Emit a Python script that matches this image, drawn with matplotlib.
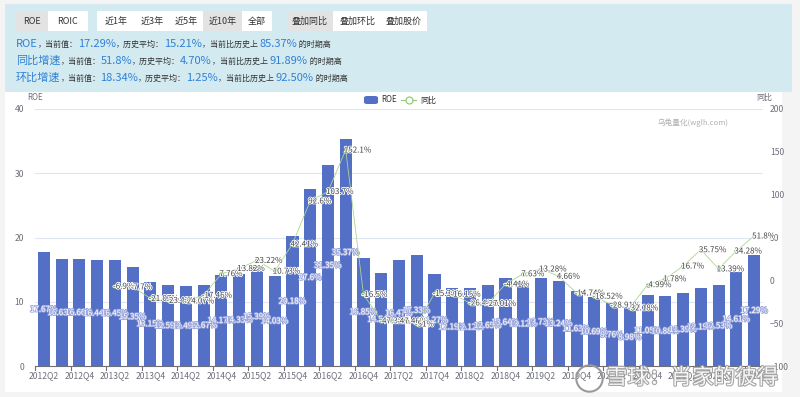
import matplotlib
matplotlib.use("Agg")
import matplotlib.pyplot as plt
from matplotlib.patches import FancyBboxPatch, Rectangle
import matplotlib.patheffects as pe

plt.rcParams['font.family'] = ['Noto Sans CJK SC', 'DejaVu Sans']

# ---------------- data ----------------
quarters = ["2012Q2", "2012Q3", "2012Q4", "2013Q1", "2013Q2", "2013Q3", "2013Q4",
            "2014Q1", "2014Q2", "2014Q3", "2014Q4", "2015Q1", "2015Q2", "2015Q3",
            "2015Q4", "2016Q1", "2016Q2", "2016Q3", "2016Q4", "2017Q1", "2017Q2",
            "2017Q3", "2017Q4", "2018Q1", "2018Q2", "2018Q3", "2018Q4", "2019Q1",
            "2019Q2", "2019Q3", "2019Q4", "2020Q1", "2020Q2", "2020Q3", "2020Q4",
            "2021Q1", "2021Q2", "2021Q3", "2021Q4", "2022Q1", "2022Q2"]
roe = [17.67, 16.63, 16.66, 16.44, 16.45, 15.35, 13.15, 12.59, 12.49, 12.67,
       14.17, 14.33, 15.39, 14.03, 20.18, 27.6, 31.35, 35.37, 16.85, 14.54,
       16.47, 17.33, 14.27, 12.19, 12.12, 12.65, 13.64, 13.12, 13.73, 13.24,
       11.63, 10.69, 9.76, 8.98, 11.05, 10.88, 11.39, 12.19, 12.53, 14.61, 17.29]
yoy = [None, None, None, None, -6.9, -7.7, -21.07, -23.42, -24.07, -17.46,
       7.76, 13.82, 23.22, 10.73, 42.41, 92.6, 103.7, 152.1, -16.5, -47.32,
       -47.46, -51.0, -15.31, -16.15, -26.41, -27.01, -4.41, 7.63, 13.28, 4.66,
       -14.74, -18.52, -28.91, -32.18, -4.99, 1.78, 16.7, 35.75, 13.39, 34.28, 51.8]
left_ticks = [0, 10, 20, 30, 40]
right_ticks = [-100, -50, 0, 50, 100, 150, 200]

W, H = 800, 397
BAR = '#5470c6'
LINE = '#a9d68f'
BLUE_TXT = '#2f80d6'
DARK = '#333333'
AXIS_TXT = '#6e7079'

fig = plt.figure(figsize=(W / 100, H / 100), dpi=100)
fig.patch.set_facecolor('#f4f4f4')


def px(x0, y0, w, h):
    """figure fraction rect from top-left pixel coords"""
    return (x0 / W, 1 - (y0 + h) / H, w / W, h / H)


# background panels
fig.patches.append(Rectangle((5 / W, 1 - 392 / H), 777 / W, 300 / H,
                             transform=fig.transFigure, facecolor='white',
                             edgecolor='none', zorder=-10))
fig.patches.append(Rectangle((5 / W, 1 - 92 / H), 787 / W, 88 / H,
                             transform=fig.transFigure, facecolor='#d3eaf0',
                             edgecolor='none', zorder=-10))

# buttons
buttons = [("ROE", 16, 48, True), ("ROIC", 48, 88, False),
           ("近1年", 97, 135, False), ("近3年", 135, 170, False),
           ("近5年", 170, 203, False), ("近10年", 203, 242, True),
           ("全部", 242, 272, False),
           ("叠加同比", 287, 333, True), ("叠加环比", 333, 381, False),
           ("叠加股价", 381, 427, False)]
for label, x0, x1, sel in buttons:
    fig.patches.append(Rectangle((x0 / W, 1 - 31 / H), (x1 - x0) / W, 20 / H,
                                 transform=fig.transFigure,
                                 facecolor='#e3e3e3' if sel else 'white',
                                 edgecolor='none', zorder=-5))
    fig.text((x0 + x1) / 2 / W, 1 - 21.5 / H, label, ha='center', va='center',
             fontsize=6.5, color=DARK, zorder=2)

renderer = fig.canvas.get_renderer()


def pieces(x0, ybase, items):
    x = x0
    for txt, size, color in items:
        t = fig.text(x / W, 1 - ybase / H, txt, fontsize=size, color=color,
                     ha='left', va='baseline', zorder=2)
        x += t.get_window_extent(renderer).width


big, small = 8.0, 5.8
pieces(16, 47, [("ROE", big, BLUE_TXT), ("，当前值：", small, DARK), ("17.29%", big, BLUE_TXT),
                ("，历史平均：", small, DARK), ("15.21%", big, BLUE_TXT),
                ("，当前比历史上 ", small, DARK), ("85.37%", big, BLUE_TXT), (" 的时期高", small, DARK)])
pieces(16, 64, [("同比增速", big, BLUE_TXT), ("，当前值：", small, DARK), ("51.8%", big, BLUE_TXT),
                ("，历史平均：", small, DARK), ("4.70%", big, BLUE_TXT),
                ("，当前比历史上 ", small, DARK), ("91.89%", big, BLUE_TXT), (" 的时期高", small, DARK)])
pieces(16, 81, [("环比增速", big, BLUE_TXT), ("，当前值：", small, DARK), ("18.34%", big, BLUE_TXT),
                ("，历史平均：", small, DARK), ("1.25%", big, BLUE_TXT),
                ("，当前比历史上 ", small, DARK), ("92.50%", big, BLUE_TXT), (" 的时期高", small, DARK)])

# ---------------- chart ----------------
ax = fig.add_axes(px(35, 109, 728, 257))
ax.set_facecolor('none')
x = list(range(len(quarters)))
ax.bar(x, roe, width=0.68, color=BAR, zorder=2)
ax.set_xlim(-0.5, len(quarters) - 0.5)
ax.set_ylim(0, 40)
ax.set_yticks(left_ticks)
ax.grid(axis='y', color='#e0e6f1', linewidth=0.8, zorder=0)
ax.set_axisbelow(True)
for s in ['top', 'right', 'left']:
    ax.spines[s].set_visible(False)
ax.spines['bottom'].set_color(AXIS_TXT)
ax.spines['bottom'].set_linewidth(0.8)
ax.tick_params(axis='y', length=0, labelsize=6.2, labelcolor=AXIS_TXT, pad=8)
ax.set_xticks(x[::2])
ax.set_xticklabels(quarters[::2])
ax.tick_params(axis='x', length=0, labelsize=6.2, labelcolor=AXIS_TXT, pad=4)
for i in x[::2]:
    ax.plot([i - 0.5, i - 0.5], [0, -0.6], color=AXIS_TXT, lw=0.8, clip_on=False)

for i, v in enumerate(roe):
    ax.text(i, v / 2, f"{v:g}%", ha='center', va='center', fontsize=5.8,
            color='white', zorder=3,
            path_effects=[pe.withStroke(linewidth=1.2, foreground='#9aa6dc')])

ax2 = ax.twinx()
ax2.set_ylim(-100, 200)
ax2.set_yticks(right_ticks)
for s in ax2.spines.values():
    s.set_visible(False)
ax2.tick_params(axis='y', length=0, labelsize=6.2, labelcolor=AXIS_TXT, pad=5)
xs = [i for i, v in enumerate(yoy) if v is not None]
ys = [v for v in yoy if v is not None]
ax2.plot(xs, ys, color=LINE, lw=0.6, marker='o', markersize=2.6,
         markerfacecolor='white', markeredgecolor='#7fbf5f', markeredgewidth=0.8, zorder=4)
for xi, yi in zip(xs, ys):
    ax2.annotate(f"{yi:g}%", (xi, yi), xytext=(-2, 0), textcoords='offset pixels',
                 ha='left', va='center', fontsize=5.8, color='#444444', zorder=5,
                 path_effects=[pe.withStroke(linewidth=1.2, foreground='white')])

# axis names
fig.text(35 / W, 1 - 97 / H, "ROE", ha='center', va='center', fontsize=5.8, color=AXIS_TXT)
fig.text(764 / W, 1 - 97 / H, "同比", ha='center', va='center', fontsize=5.8, color=AXIS_TXT)

# legend
fig.patches.append(FancyBboxPatch((364 / W, 1 - 104 / H), 14 / W, 8 / H,
                                  boxstyle='round,pad=0,rounding_size=0.004',
                                  transform=fig.transFigure, facecolor=BAR,
                                  edgecolor='none', zorder=3))
fig.text(381 / W, 1 - 100 / H, "ROE", ha='left', va='center', fontsize=5.8, color=DARK)
fig.lines.append(plt.Line2D([401 / W, 416 / W], [1 - 100 / H, 1 - 100 / H],
                            transform=fig.transFigure, color='#91cc75', lw=0.8))
fig.lines.append(plt.Line2D([408.5 / W], [1 - 100 / H], transform=fig.transFigure,
                            color='#91cc75', marker='o', markersize=5,
                            markerfacecolor='white', markeredgewidth=0.9))
fig.text(420 / W, 1 - 100 / H, "同比", ha='left', va='center', fontsize=5.8, color=DARK)

# watermarks
fig.text(693 / W, 1 - 123 / H, "乌龟量化(wglh.com)", ha='center', va='center',
         fontsize=5.5, color='#b0b0b0')
fig.text(606 / W, 1 - 378 / H, "雪球：肖家的彼得", ha='left', va='center',
         fontsize=15.5, color='white', alpha=0.9, zorder=10,
         path_effects=[pe.withStroke(linewidth=1.5, foreground='#9a9a9a')])
fig.lines.append(plt.Line2D([589 / W], [1 - 378 / H], transform=fig.transFigure,
                            marker='o', markersize=19, markerfacecolor='none',
                            markeredgecolor='#9a9a9a', markeredgewidth=1.5, zorder=10))

fig.savefig("out.png", dpi=100, facecolor=fig.get_facecolor())
